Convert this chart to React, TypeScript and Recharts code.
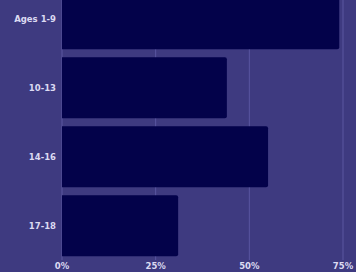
import React from 'react';
import { BarChart, Bar, XAxis, YAxis, CartesianGrid } from 'recharts';

const ageGroups = ['Ages 1-9', '10-13', '14-16', '17-18'];
const shares = [74, 44, 55, 31];
const xTicks = [0, 25, 50, 75];

const data = ageGroups.map((group, i) => ({ group, share: shares[i] }));

const tickStyle = { fill: '#dcdaf2', fontSize: 8.5, fontWeight: 700, fontFamily: 'DejaVu Sans' };

const App: React.FC = () => {
  return (
    <div
      style={{
        position: 'absolute',
        left: 0,
        top: 0,
        width: 356,
        height: 272,
        overflow: 'hidden',
        background: '#3e3a80',
      }}
    >
      <div style={{ position: 'absolute', left: 0, top: -16 }}>
        <BarChart
          width={356}
          height={296}
          data={data}
          layout="vertical"
          margin={{ top: 0, right: 13, left: 0, bottom: 0 }}
          barCategoryGap="6%"
        >
          <CartesianGrid horizontal={false} stroke="#5a56a0" />
          <XAxis
            type="number"
            domain={[0, 75]}
            ticks={xTicks}
            tickFormatter={(v) => `${v}%`}
            axisLine={false}
            tickLine={false}
            tickSize={0}
            tickMargin={3}
            height={20}
            tick={tickStyle}
            interval={0}
          />
          <YAxis
            type="category"
            dataKey="group"
            width={62}
            axisLine={false}
            tickLine={false}
            tickSize={0}
            tickMargin={6}
            tick={tickStyle}
          />
          <Bar dataKey="share" fill="#03024a" radius={[0, 2, 2, 0]} isAnimationActive={false} />
        </BarChart>
      </div>
    </div>
  );
};

export default App;
